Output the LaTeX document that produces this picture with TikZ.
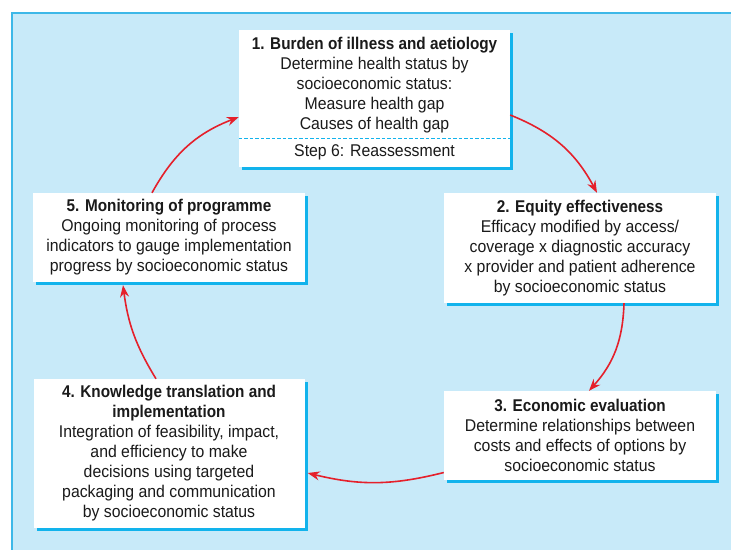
\documentclass[tikz,border=0pt]{standalone}
\usepackage{fontspec}
\setmainfont{Liberation Sans}[FakeStretch=0.93, BoldFeatures={FakeStretch=0.90}]
\usetikzlibrary{arrows.meta,shadows,calc}
\definecolor{panelfill}{HTML}{C8EAF9}
\definecolor{panelline}{HTML}{3DB8E8}
\definecolor{shadowc}{HTML}{12B3EC}
\definecolor{arrowred}{HTML}{E5202B}
\definecolor{textc}{HTML}{1A1A1A}
\tikzset{
  stepbox/.style={fill=white, align=center, inner sep=0pt, text=textc,
    font=\fontsize{17}{20}\selectfont,
    general shadow={fill=shadowc, shadow xshift=3pt, shadow yshift=-3pt}},
  flow/.style={draw=arrowred, line width=1.6pt, -{Stealth[length=12pt,width=9pt]}},
}
\begin{document}
\begin{tikzpicture}[x=1pt,y=-1pt]
\clip (0,0) rectangle (731,549);
\useasboundingbox (0,0) rectangle (731,549);
\fill[white] (0,0) rectangle (731,549);
\draw[fill=panelfill, draw=panelline, line width=2pt] (11.5,12.5) rectangle (760,580);

\node[stepbox, minimum width=271pt, minimum height=137pt] (b1) at (374.5,98.5)
 {\textbf{1. Burden of illness and aetiology}\\ Determine health status by\\ socioeconomic status:\\ Measure health gap\\ Causes of health gap\\[7pt] Step 6: Reassessment};
\node[stepbox, minimum width=272pt, minimum height=110pt] (b2) at (580,248)
 {\textbf{2. Equity effectiveness}\\ Efficacy modified by access/\\ coverage x diagnostic accuracy\\ x provider and patient adherence\\ by socioeconomic status};
\node[stepbox, minimum width=272pt, minimum height=89pt] (b3) at (580,435.5)
 {\textbf{3. Economic evaluation}\\ Determine relationships between\\ costs and effects of options by\\ socioeconomic status};
\node[stepbox, minimum width=271pt, minimum height=149pt] (b4) at (169,453.5)
 {\textbf{4. Knowledge translation and}\\ \textbf{implementation}\\ Integration of feasibility, impact,\\ and efficiency to make\\ decisions using targeted\\ packaging and communication\\ by socioeconomic status};
\node[stepbox, minimum width=272pt, minimum height=89pt] (b5) at (169,237.5)
 {\textbf{5. Monitoring of programme}\\ Ongoing monitoring of process\\ indicators to gauge implementation\\ progress by socioeconomic status};

\draw[shadowc, line width=1pt, dash pattern=on 3.5pt off 2pt]
  ($(b1.south west)+(0,-29)$) -- ($(b1.south east)+(0,-29)$);

\draw[flow] ($(b1.east)+(0,16.5)$) to[bend left=20] ($(b2.north)+(17,0)$);
\draw[flow] ($(b2.south)+(44,0)$) to[bend left=20] ($(b3.north)+(9,0)$);
\draw[flow] ($(b3.west)+(0,37)$) to[bend left=14] ($(b4.east)+(3,19.5)$);
\draw[flow] ($(b4.north)+(-13,0)$) to[bend left=12] ($(b5.south)+(-46,3)$);
\draw[flow] ($(b5.north)+(-17,0)$) to[bend left=20] ($(b1.west)+(0,18.5)$);
\end{tikzpicture}
\end{document}
